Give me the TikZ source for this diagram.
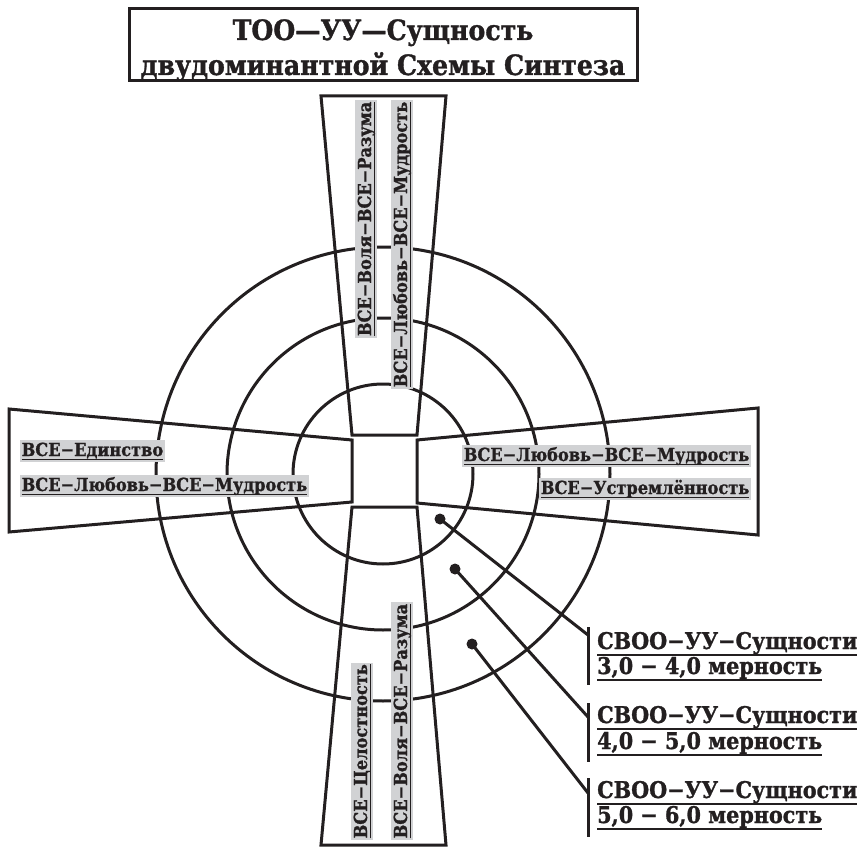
\documentclass[tikz,border=0pt]{standalone}
\usepackage{fontspec}
\setmainfont[FakeStretch=0.9, BoldFeatures={FakeBold=1.2}]{DejaVu Serif}
\definecolor{ink}{RGB}{35,31,32}
\definecolor{lgray}{RGB}{209,210,212}
\newsavebox{\ulbox}
\newcommand{\lblu}[1]{\sbox{\ulbox}{#1}\rlap{\usebox{\ulbox}}\rule[-3.8pt]{\wd\ulbox}{1.2pt}}
\newcommand{\sidu}[1]{\sbox{\ulbox}{#1}\rlap{\usebox{\ulbox}}\rule[-6.6pt]{\wd\ulbox}{1.6pt}}
\tikzset{
  stroke/.style={draw=ink, line width=3pt},
  lbl/.style={fill=lgray, text=ink, font=\bfseries\fontsize{18}{20}\selectfont,
    inner xsep=1.5pt, inner ysep=2.5pt, text height=14pt, text depth=3.5pt},
  sidetext/.style={text=ink, font=\bfseries\fontsize{23}{25}\selectfont, inner sep=0pt, anchor=base west},
  titletext/.style={text=ink, font=\bfseries\fontsize{28}{30}\selectfont, inner sep=0pt, anchor=base},
  dot/.style={circle, fill=ink, inner sep=0pt, minimum size=11pt},
}
\begin{document}
\begin{tikzpicture}[x=1pt,y=-1pt]
\useasboundingbox[fill=white] (0,0) rectangle (860,848);
% title
\node[stroke, minimum width=508pt, minimum height=72pt, inner sep=0pt] (title) at (383,45) {};
\node[titletext] (t1) at (383,40) {ТОО—УУ—Сущность};
\node[titletext] (t2) at (383,75) {двудоминантной Схемы Синтеза};
% circles
\coordinate (c) at (383,474);
\draw[stroke] (c) circle[radius=90pt];
\draw[stroke] (c) circle[radius=156pt];
\draw[stroke] (c) circle[radius=227pt];
% arms
\draw[stroke] (321,96) -- (446,96) -- (417,435) -- (352,435) -- cycle;
\draw[stroke] (352,507) -- (417,507) -- (446,845) -- (321,845) -- cycle;
\draw[stroke] (9,409) -- (352,440) -- (352,502) -- (9,532) -- cycle;
\draw[stroke] (758,408) -- (417,440) -- (417,503) -- (758,535) -- cycle;
% arm labels
\node[lbl, anchor=base east, rotate=90] (top1) at (371,100) {\lblu{ВСЕ−Воля−ВСЕ−Разума}};
\node[lbl, anchor=base east, rotate=90] (top2) at (407,100) {\lblu{ВСЕ−Любовь−ВСЕ−Мудрость}};
\node[lbl, anchor=base west, rotate=90] (bot1) at (367,840) {\lblu{ВСЕ−Целостность}};
\node[lbl, anchor=base west, rotate=90] (bot2) at (407,840) {\lblu{ВСЕ−Воля−ВСЕ−Разума}};
\node[lbl, anchor=base west] (lef1) at (20,456) {\lblu{ВСЕ−Единство}};
\node[lbl, anchor=base west] (lef2) at (20,491) {\lblu{ВСЕ−Любовь−ВСЕ−Мудрость}};
\node[lbl, anchor=base east] (rig1) at (751,461) {\lblu{ВСЕ−Любовь−ВСЕ−Мудрость}};
\node[lbl, anchor=base east] (rig2) at (751,494) {\lblu{ВСЕ−Устремлённость}};
% dots and callouts
\node[dot] (d1) at (440,519) {};
\node[dot] (d2) at (455,569) {};
\node[dot] (d3) at (472,644) {};
\coordinate (b1t) at (588,627); \coordinate (b1b) at (588,685); \coordinate (b1j) at (588,635);
\coordinate (b2t) at (588,703); \coordinate (b2b) at (588,762); \coordinate (b2j) at (588,717);
\coordinate (b3t) at (588,778); \coordinate (b3b) at (588,837); \coordinate (b3j) at (588,793);
\draw[stroke] (b1t) -- (b1b);
\draw[stroke] (b2t) -- (b2b);
\draw[stroke] (b3t) -- (b3b);
\draw[stroke] (d1.center) -- (b1j);
\draw[stroke] (d2.center) -- (b2j);
\draw[stroke] (d3.center) -- (b3j);
\node[sidetext] (s1a) at (597,649) {\sidu{СВОО−УУ−Сущности}};
\node[sidetext] (s1b) at (597,674) {\sidu{3,0 − 4,0 мерность}};
\node[sidetext] (s2a) at (597,723) {\sidu{СВОО−УУ−Сущности}};
\node[sidetext] (s2b) at (597,749) {\sidu{4,0 − 5,0 мерность}};
\node[sidetext] (s3a) at (597,798) {\sidu{СВОО−УУ−Сущности}};
\node[sidetext] (s3b) at (597,823) {\sidu{5,0 − 6,0 мерность}};
\end{tikzpicture}
\end{document}
